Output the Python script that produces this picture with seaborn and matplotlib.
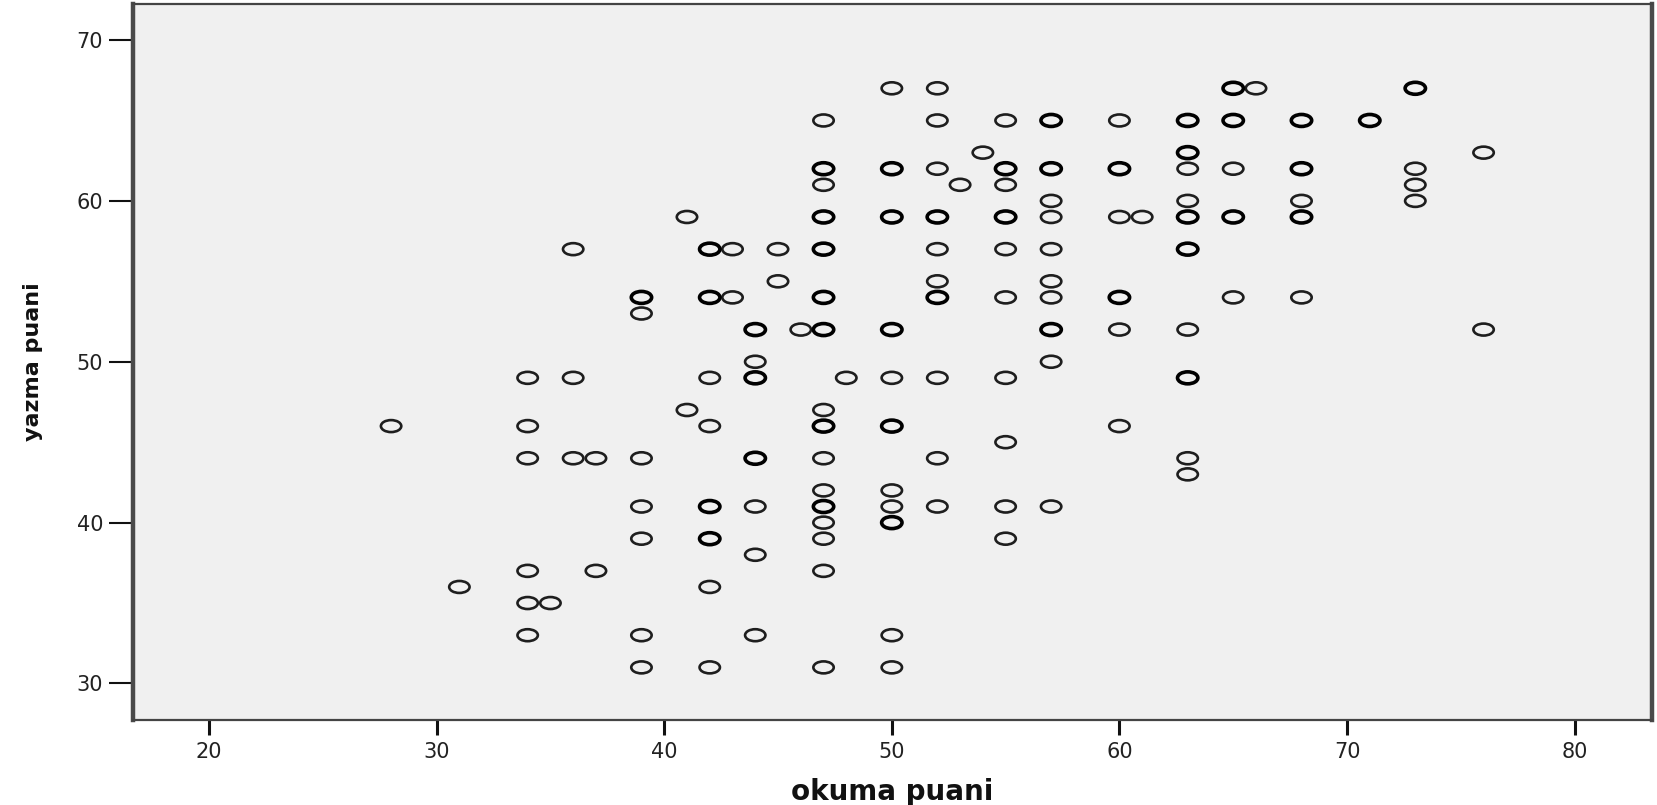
import numpy as np
import pandas as pd
import matplotlib
matplotlib.use("Agg")
import matplotlib.pyplot as plt
from matplotlib.path import Path
from matplotlib.transforms import Affine2D
from matplotlib import font_manager
import seaborn as sns

# ---- data (okuma = reading score, yazma = writing score) ----
okuma = [28,
         31,
         34, 34, 34, 34, 34, 34,
         35,
         36, 36, 36,
         37, 37,
         39, 39, 39, 39, 39, 39, 39, 39,
         41, 41,
         42, 42, 42, 42, 42, 42, 42, 42, 42, 42, 42, 42,
         43, 43,
         44, 44, 44, 44, 44, 44, 44, 44, 44, 44,
         45, 45,
         46,
         47, 47, 47, 47, 47, 47, 47, 47, 47, 47, 47, 47, 47, 47, 47, 47, 47, 47, 47, 47, 47, 47, 47,
         48,
         50, 50, 50, 50, 50, 50, 50, 50, 50, 50, 50, 50, 50, 50, 50, 50,
         52, 52, 52, 52, 52, 52, 52, 52, 52, 52, 52, 52,
         53,
         54,
         55, 55, 55, 55, 55, 55, 55, 55, 55, 55, 55, 55,
         57, 57, 57, 57, 57, 57, 57, 57, 57, 57, 57, 57, 57,
         60, 60, 60, 60, 60, 60, 60, 60,
         61,
         63, 63, 63, 63, 63, 63, 63, 63, 63, 63, 63, 63, 63, 63, 63,
         65, 65, 65, 65, 65, 65, 65, 65,
         66,
         68, 68, 68, 68, 68, 68, 68, 68,
         71, 71,
         73, 73, 73, 73, 73,
         76, 76]

yazma = [46,
         36,
         49, 46, 44, 37, 35, 33,
         35,
         57, 49, 44,
         44, 37,
         54, 54, 53, 44, 41, 39, 33, 31,
         59, 47,
         57, 57, 54, 54, 49, 46, 41, 41, 39, 39, 36, 31,
         57, 54,
         52, 52, 50, 49, 49, 44, 44, 41, 38, 33,
         57, 55,
         52,
         65, 62, 62, 61, 59, 59, 57, 57, 54, 54, 52, 52, 47, 46, 46, 44, 42, 41, 41, 40, 39, 37, 31,
         49,
         67, 62, 62, 59, 59, 52, 52, 49, 46, 46, 42, 41, 40, 40, 33, 31,
         67, 65, 62, 59, 59, 57, 55, 54, 54, 49, 44, 41,
         61,
         63,
         65, 62, 62, 61, 59, 59, 57, 54, 49, 45, 41, 39,
         65, 65, 62, 62, 60, 59, 57, 55, 54, 52, 52, 50, 41,
         65, 62, 62, 59, 54, 54, 52, 46,
         59,
         65, 65, 63, 63, 62, 60, 59, 59, 57, 57, 52, 49, 49, 44, 43,
         67, 67, 65, 65, 62, 59, 59, 54,
         67,
         65, 65, 62, 62, 60, 59, 59, 54,
         65, 65,
         67, 67, 62, 61, 60,
         63, 52]

x_ticks = [20, 30, 40, 50, 60, 70, 80]
y_ticks = [30, 40, 50, 60, 70]
x_label = "okuma puani"
y_label = "yazma puani"

# ---- style ----
sns.set_theme(style="white")
plt.rcParams["font.family"] = ["DejaVu Sans"]

names = {f.name for f in font_manager.fontManager.ttflist}
narrow = "Liberation Sans Narrow" if "Liberation Sans Narrow" in names else None

df = pd.DataFrame({"okuma": okuma, "yazma": yazma})
counts = df.value_counts().reset_index(name="n")
single = counts[counts["n"] == 1]
multi = counts[counts["n"] > 1]

fig = plt.figure(figsize=(16.57, 8.05), dpi=100)
ax = fig.add_axes([133 / 1657, 1 - 719.5 / 805, (1652 - 133) / 1657, (719.5 - 4) / 805])
ax.set_facecolor("#f0f0f0")

# elliptical open marker (the original picture is stretched horizontally)
ellipse = Path.unit_circle().transformed(Affine2D().scale(1.7, 1.0))

sns.scatterplot(data=single, x="okuma", y="yazma", marker=ellipse, s=215,
                facecolor="none", edgecolor="#1e1e1e", linewidth=1.9, ax=ax, zorder=3)
sns.scatterplot(data=multi, x="okuma", y="yazma", marker=ellipse, s=215,
                facecolor="none", edgecolor="#000000", linewidth=2.6, ax=ax, zorder=3)

ax.set_xlim(16.66, 83.4)
ax.set_ylim(27.76, 72.24)
ax.set_xticks(x_ticks)
ax.set_yticks(y_ticks)
ax.set_xticklabels([str(t) for t in x_ticks])
ax.set_yticklabels([str(t) for t in y_ticks])

ax.tick_params(axis="x", which="major", direction="out", length=11, width=2.2,
               color="#111111", pad=5, labelsize=15, labelcolor="#222222",
               bottom=True)
ax.tick_params(axis="y", which="major", direction="out", length=17, width=1.5,
               color="#111111", pad=4.5, labelsize=15, labelcolor="#222222",
               left=True)

for side in ["left", "right"]:
    ax.spines[side].set_linewidth(3.2)
    ax.spines[side].set_color("#4a4a4a")
for side in ["top", "bottom"]:
    ax.spines[side].set_linewidth(1.6)
    ax.spines[side].set_color("#444444")

ax.set_xlabel(x_label, fontsize=20, fontweight="bold", color="#111111",
              family=["DejaVu Sans"], va="center")
ax.xaxis.set_label_coords(0.5, -0.1013)

if narrow:
    ax.set_ylabel(y_label, fontsize=21, fontweight="bold", color="#111111",
                  family=[narrow, "DejaVu Sans"], va="center")
else:
    ax.set_ylabel(y_label, fontsize=16, fontweight="bold", color="#111111",
                  family=["DejaVu Sans"], va="center")
ax.yaxis.set_label_coords(-0.0658, 0.5)

fig.savefig("out.png", dpi=100, facecolor="white")
